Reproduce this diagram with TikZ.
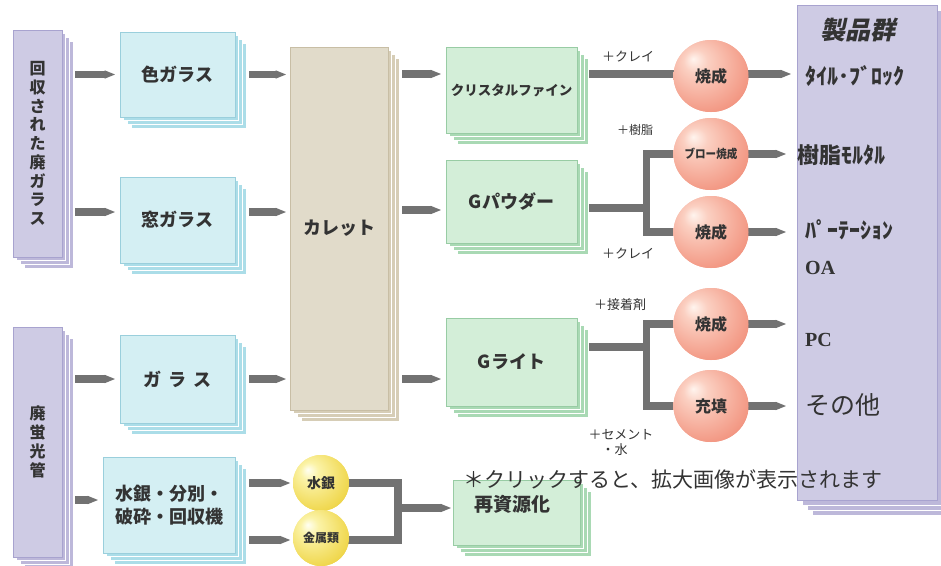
\documentclass[tikz,border=0pt]{standalone}
\usepackage{fontspec}
\setmainfont{Noto Sans CJK JP}
\newfontfamily\jpslant{Noto Sans CJK JP}[FakeSlant=0.22]
\newfontfamily\timesb{Liberation Serif}
\usetikzlibrary{arrows.meta,calc,shapes.geometric}
\definecolor{txt}{HTML}{333333}
\definecolor{flowgray}{HTML}{727272}
\definecolor{purpleF}{HTML}{CECBE4}
\definecolor{purpleL}{HTML}{BDB8DA}
\definecolor{purpleB}{HTML}{A8A3CF}
\definecolor{blueF}{HTML}{D4EFF3}
\definecolor{blueL}{HTML}{ABDDE8}
\definecolor{blueB}{HTML}{9ACFDC}
\definecolor{greenF}{HTML}{D3EED8}
\definecolor{greenL}{HTML}{A9D9B4}
\definecolor{greenB}{HTML}{98CCA4}
\definecolor{beigeF}{HTML}{E1DBCA}
\definecolor{beigeL}{HTML}{D6CDB6}
\definecolor{beigeB}{HTML}{C8BEA5}
\definecolor{redA}{HTML}{FFF4EE}
\definecolor{redB}{HTML}{FBD0C2}
\definecolor{redC}{HTML}{F39A86}
\definecolor{redD}{HTML}{E45A45}
\definecolor{yelA}{HTML}{FFFFF2}
\definecolor{yelB}{HTML}{FBF3A8}
\definecolor{yelC}{HTML}{F0D850}
\definecolor{yelD}{HTML}{D4A400}
\pgfdeclareradialshading{redball}{\pgfpoint{-12bp}{12bp}}{color(0bp)=(redA); color(8bp)=(redB); color(30bp)=(redC); color(56bp)=(redD)}
\pgfdeclareradialshading{yelball}{\pgfpoint{-12bp}{12bp}}{color(0bp)=(yelA); color(8bp)=(yelB); color(30bp)=(yelC); color(56bp)=(yelD)}
\newcommand\fsz[1]{\fontsize{#1}{#1}\selectfont}
\def\layofs{3.7}
\newcommand\stackbox[8]{%
  \foreach \k in {3,2,1}{\filldraw[fill=#6L, draw=white, line width=0.8pt] ({#2+\k*\layofs},{#3+\k*\layofs}) rectangle ({#4+\k*\layofs},{#5+\k*\layofs});}
  \node[fill=#6F, draw=#6B, line width=0.8pt, inner sep=0pt, minimum width={(#4-#2)*1pt}, minimum height={(#5-#3)*1pt}, text=txt, #7] (#1) at ({(#2+#4)/2},{(#3+#5)/2}) {#8};
}
\begin{document}
\begin{tikzpicture}[x=1pt,y=-1pt,
  flow/.style={draw=flowgray, line width=7.5pt, -{Triangle[length=11pt,width=7.5pt]}},
  bar/.style={draw=flowgray, line width=7.5pt, line join=miter},
  ball/.style={ellipse, minimum width=75pt, minimum height=72pt, inner sep=0pt, shading=redball, text=txt, font=\bfseries\fsz{16}},
  yball/.style={circle, minimum size=56pt, inner sep=0pt, shading=yelball, text=txt, font=\bfseries\fsz{14}},
  lab/.style={text=txt, font=\fsz{13}, inner sep=0pt},
  prodlab/.style={anchor=west, text=txt, inner sep=0pt}]
\useasboundingbox (0,0) rectangle (941,565);
\fill[white] (0,0) rectangle (941,565);
% boxes
\stackbox{p1}{13}{30}{62}{257}{purple}{align=center, font=\bfseries\fontsize{16}{18.7}\selectfont}{回\\収\\さ\\れ\\た\\廃\\ガ\\ラ\\ス}
\stackbox{p2}{13}{327}{62}{557}{purple}{align=center, font=\bfseries\fontsize{16}{19}\selectfont}{廃\\蛍\\光\\管}
\stackbox{b1}{120}{32}{235}{117}{blue}{font=\bfseries\fsz{18}}{色ガラス}
\stackbox{b2}{120}{177}{235}{263}{blue}{font=\bfseries\fsz{18}}{窓ガラス}
\stackbox{b3}{120}{335}{235}{423}{blue}{font=\bfseries\fsz{18}}{ガ\hspace{0.4em}ラ\hspace{0.4em}ス}
\stackbox{b4}{103}{457}{235}{553}{blue}{align=center, font=\bfseries\fontsize{18}{23}\selectfont}{水銀・分別・\\破砕・回収機}
\stackbox{c}{290}{47}{388}{410}{beige}{font=\bfseries\fsz{18}}{カレット}
\stackbox{g1}{446}{47}{577}{133}{green}{font=\bfseries\fsz{13.5}}{クリスタルファイン}
\stackbox{g2}{446}{160}{577}{243}{green}{font=\bfseries\fsz{18}}{Gパウダー}
\stackbox{g3}{446}{318}{577}{406}{green}{font=\bfseries\fsz{18}}{Gライト}
\stackbox{g4}{453}{480}{580}{545}{green}{label={[xshift=-4pt,yshift=8pt,font=\bfseries\fsz{19},text=txt]center:再資源化}}{}
\def\layofs{5}
\stackbox{prod}{797}{5}{937}{500}{purple}{}{}
% circles (placed first for anchors, drawn later on top)
\path node[ball] (r1) at (711,76) {焼成}
      node[ball, font=\bfseries\fsz{12}] (r2) at (711,154) {\scalebox{0.88}[1]{ブロー焼成}}
      node[ball] (r3) at (711,232) {焼成}
      node[ball] (r4) at (711,324) {焼成}
      node[ball] (r5) at (711,406) {充填}
      node[yball] (y1) at (321,483) {水銀}
      node[yball, font=\bfseries\fsz{12}] (y2) at (321,538) {金属類};
% connectors
\draw[flow] ($(p1.east|-b1.west)+(13,0)$) -- ($(b1.west)+(-4,0)$);
\draw[flow] ($(p1.east|-b2.west)+(13,-8)$) -- ($(b2.west)+(-4,-8)$);
\draw[flow] ($(p2.east|-b3.west)+(13,0)$) -- ($(b3.west)+(-4,0)$);
\draw[flow] ($(p2.east|-b4.west)+(13,-5)$) -- ($(b4.west)+(-4,-5)$);
\draw[flow] ($(b1.east)+(14,0)$) -- ($(c.west|-b1.east)+(-3,0)$);
\draw[flow] ($(b2.east)+(14,-8)$) -- ($(c.west|-b2.east)+(-3,-8)$);
\draw[flow] ($(b3.east)+(14,0)$) -- ($(c.west|-b3.east)+(-3,0)$);
\draw[flow] ($(c.east|-g1.west)+(14,-16)$) -- ($(g1.west)+(-4,-16)$);
\draw[flow] ($(c.east|-g2.west)+(14,8.5)$) -- ($(g2.west)+(-4,8.5)$);
\draw[flow] ($(c.east|-g3.west)+(14,17)$) -- ($(g3.west)+(-4,17)$);
\draw[flow] ($(b4.east|-y1.west)+(14,0)$) -- ($(y1.west)+(-2,0)$);
\draw[flow] ($(b4.east|-y2.west)+(14,2)$) -- ($(y2.west)+(-2,2)$);
\draw[bar] ($(g1.east|-r1.west)+(12,-2)$) -- ($(r1.center)+(0,-2)$);
\coordinate (j1) at ($(g2.east)+(69,6.5)$);
\draw[bar] ($(g2.east)+(12,6.5)$) -- (j1);
\draw[bar] (r2.center) -| (j1) |- (r3.center);
\coordinate (j2) at ($(g3.east)+(69,-15)$);
\draw[bar] ($(g3.east)+(12,-15)$) -- (j2);
\draw[bar] (r4.center) -| (j2) |- (r5.center);
\coordinate (j3) at ($(y1.east)+(49,25)$);
\draw[bar] (y1.center) -| (j3) |- ($(y2.center)+(0,2)$);
\draw[flow] (j3) -- ($(g4.west|-j3)+(-1,0)$);
\draw[flow] ($(r1.east)+(-5,-2)$) -- ($(r1.east-|prod.west)+(-5,-2)$);
\draw[flow] ($(r2.east)+(-5,0)$) -- ($(r2.east-|prod.west)+(-10,0)$);
\draw[flow] ($(r3.east)+(-5,0)$) -- ($(r3.east-|prod.west)+(-10,0)$);
\draw[flow] ($(r4.east)+(-5,0)$) -- ($(r4.east-|prod.west)+(-10,0)$);
\draw[flow] ($(r5.east)+(-5,0)$) -- ($(r5.east-|prod.west)+(-10,0)$);
% circles on top
\node[ball] at (r1.center) {焼成};
\node[ball, font=\bfseries\fsz{12}] at (r2.center) {\scalebox{0.88}[1]{ブロー焼成}};
\node[ball] at (r3.center) {焼成};
\node[ball] at (r4.center) {焼成};
\node[ball] at (r5.center) {充填};
\node[yball] at (y1.center) {水銀};
\node[yball, font=\bfseries\fsz{12}] at (y2.center) {金属類};
% labels
\node[lab] (lk1) at (628,57) {＋クレイ};
\node[lab, font=\fsz{12}] (lj) at (635,130) {＋樹脂};
\node[lab] (lk2) at (628,254) {＋クレイ};
\node[lab] (ls) at (620,305) {＋接着剤};
\node[lab, align=left, font=\fontsize{13}{15}\selectfont] (lc) at (621,442) {＋セメント\\\hspace*{1em}・水};
% product group
\node[font=\jpslant\bfseries\fsz{25}, text=txt] (ph) at (858,30) {製品群};
\node[prodlab, font=\bfseries\fsz{22}] (t1) at (805,76) {ﾀｲﾙ･ﾌﾞﾛｯｸ};
\node[prodlab, font=\bfseries\fsz{22}] (t2) at (797,155) {樹脂ﾓﾙﾀﾙ};
\node[prodlab, font=\bfseries\fsz{22}] (t3) at (805,230) {ﾊﾟｰﾃｰｼｮﾝ};
\node[prodlab, font=\timesb\bfseries\fsz{20}] (t4) at (805,268) {OA};
\node[prodlab, font=\timesb\bfseries\fsz{20}] (t5) at (805,340) {PC};
\node[prodlab, font=\fsz{25}] (t6) at (805,405) {その他};
% note
\node[anchor=west, inner sep=0pt, text=txt, font=\fsz{21}] (note) at (463,479) {＊クリックすると、拡大画像が表示されます};
\end{tikzpicture}
\end{document}
